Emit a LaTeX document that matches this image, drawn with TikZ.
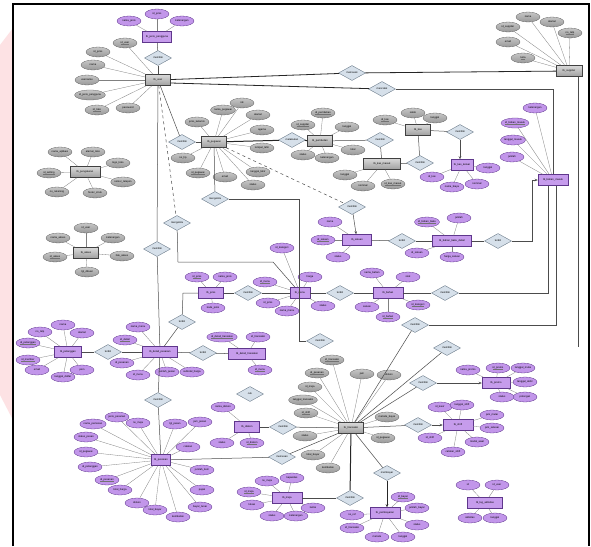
\documentclass[tikz,border=0pt]{standalone}
\usepackage{fontspec}
\setmainfont{Liberation Sans}
\usetikzlibrary{shapes.geometric,arrows.meta,calc}
\definecolor{purp}{RGB}{198,156,236}
\definecolor{purpd}{RGB}{95,55,140}
\definecolor{purpe}{RGB}{194,150,234}
\definecolor{relf}{RGB}{214,224,234}
\definecolor{reld}{RGB}{110,125,140}
\definecolor{pinkbg}{RGB}{253,226,228}
\newcommand\ulx[1]{\setbox0\hbox{#1}\leavevmode\rlap{\color{black!55}\rule[-0.35pt]{\wd0}{0.12pt}}\box0}
\newcommand\attset[3]{\foreach \ax/\ay/\at [count=\ai] in {#3} {\node[#1] (#2a\ai) at (\ax,\ay) {\at}; \draw[aline] (#2) -- (#2a\ai);}}
\begin{document}
\begin{tikzpicture}[x=1pt,y=-1pt, font=\fontsize{2.6}{3}\selectfont,
 gent/.style={rectangle, draw=black!75, line width=0.5pt, top color=gray!30, bottom color=gray!75, minimum width=25pt, minimum height=11pt, inner sep=0.5pt},
 pent/.style={rectangle, draw=purpd, line width=0.5pt, fill=purp, minimum width=25pt, minimum height=11pt, inner sep=0.5pt},
 gatt/.style={ellipse, draw=black!60, line width=0.3pt, top color=gray!45, bottom color=gray!80, minimum width=24pt, minimum height=10pt, inner sep=0pt},
 patt/.style={ellipse, draw=purpd, line width=0.3pt, fill=purpe, minimum width=24pt, minimum height=10pt, inner sep=0pt},
 rel/.style={diamond, draw=reld, line width=0.4pt, fill=relf, minimum width=27pt, minimum height=15pt, inner sep=0pt},
 aline/.style={draw=black!50, line width=0.3pt},
 cline/.style={draw=black!70, line width=0.5pt},
 tline/.style={draw=black!85, line width=1pt},
 arr/.style={-{Stealth[length=3pt,width=2.5pt]}}]
\useasboundingbox (0,0) rectangle (591,546);
\fill[white] (0,0) rectangle (591,546);
\fill[pinkbg] (0,45) -- (13,28) -- (13,420) -- (0,395) -- cycle;
\draw[line width=1.5pt] (13,546) -- (13,4) -- (589,4) -- (589,546);

% entities
\node[gent] (gU) at (158,80) {tb\_user};
\node[pent, minimum width=29pt] (pJP) at (157,37) {tb\_jenis\_pengguna};
\node[gent, minimum width=26pt] (gTR) at (569,71) {tb\_supplier};
\node[gent] (gP) at (214,142) {tb\_pegawai};
\node[gent] (gM) at (320,141) {tb\_pembelian};
\node[gent] (gK) at (418,130) {tb\_kas};
\node[gent, minimum width=37pt] (gKM) at (382,164) {tb\_kas\_masuk};
\node[pent, minimum width=22pt] (pK2) at (462,165) {tb\_kas\_keluar};
\node[pent, minimum width=30pt] (pTL) at (553,180) {tb\_bahan\_masuk};
\node[gent, minimum width=30pt] (gL1) at (85,172) {tb\_pengaturan};
\node[gent] (gL2) at (86,253) {tb\_akses};
\node[pent, minimum width=29pt] (pSN) at (357,240) {tb\_satuan};
\node[pent, minimum width=39pt] (pBB) at (452,241) {tb\_bahan\_baku\_detail};
\node[pent, minimum width=20pt] (pMenu) at (300,293) {tb\_menu};
\node[pent] (pJ) at (211,293) {tb\_jenis};
\node[pent, minimum width=30pt] (pSD) at (388,293) {tb\_bahan};
\node[pent, minimum width=35pt] (pDP) at (160,352) {tb\_detail\_pesanan};
\node[pent, minimum width=37pt] (pDF) at (247,354) {tb\_detail\_transaksi};
\node[pent, minimum width=27pt] (pPel) at (68,352) {tb\_pelanggan};
\node[pent, minimum width=19pt] (pBig) at (161,460) {tb\_pesanan};
\node[pent] (pTK) at (247,427) {tb\_diskon};
\node[gent] (gT) at (351,428) {tb\_transaksi};
\node[pent, minimum width=30pt] (pPD) at (287,498) {tb\_meja};
\node[pent, minimum width=30pt] (pPay) at (385,513) {tb\_pembayaran};
\node[pent, minimum width=30pt] (pR1) at (458,425) {tb\_shift};
\node[pent, minimum width=28pt] (pR2) at (496,383) {tb\_promo};
\node[pent, minimum width=35pt] (pLone) at (485,503) {tb\_log\_aktivitas};

% attributes
\attset{gatt}{gU}{125/43/{\ulx{id\_user}}, 98/52/id\_jenis, 93/65/nama, 87/80/username, 90/95/id\_jenis\_pengguna, 97/110/{\ulx{id\_toko}}, 128/108/password}
\attset{patt}{pJP}{129/21/nama\_jenis, 157/14/id\_jenis, 182/21/keterangan}
\attset{gatt}{gTR}{528/17/nama, 508/27/id\_supplier, 552/22/alamat, 570/33/{\ulx{no\_telp}}, 508/42/email, 523/58/{\ulx{kota}}}
\attset{gatt}{gP}{242/103/nik, 223/110/nama\_pegawai, 258/115/alamat, 197/122/jenis\_kelamin, 262/130/agama, 262/148/tempat\_lahir, 183/158/no\_hp, 198/173/{\ulx{id\_pegawai}}, 225/177/email, 258/172/tanggal\_lahir, 253/185/status}
\attset{gatt}{gM}{323/113/{\ulx{id\_pembelian}}, 303/125/{\ulx{id\_supplier}}, 347/127/tanggal, 353/150/total, 303/155/status, 327/158/keterangan}
\attset{gatt}{gK}{385/120/{\ulx{id\_kas}}, 413/113/saldo, 435/118/tanggal}
\attset{gatt}{gKM}{345/175/tanggal, 363/186/nominal, 393/184/{\ulx{id\_kas\_masuk}}}
\attset{patt}{pK2}{432/177/id\_kas, 452/187/nama\_biaya, 477/184/nominal, 488/168/tanggal}
\attset{patt}{pTL}{535/108/keterangan, 515/123/{\ulx{id\_bahan\_masuk}}, 513/140/tanggal\_masuk, 512/157/jumlah}
\attset{gatt}{gL1}{60/152/nama\_aplikasi, 93/152/alamat\_toko, 118/163/logo\_toko, 49/173/{\ulx{id\_setting}}, 123/182/nomor\_telepon, 57/192/no\_rekening, 95/193/footer\_struk}
\attset{gatt}{gL2}{86/228/id\_user, 58/238/nama\_akses, 113/238/keterangan, 55/257/{\ulx{id\_akses}}, 122/256/hak\_akses, 87/272/tgl\_dibuat}
\attset{patt}{pSN}{330/222/nama, 323/240/{\ulx{id\_satuan}}, 338/257/status}
\attset{patt}{pBB}{427/222/{\ulx{id\_bahan\_baku}}, 459/218/jumlah, 417/253/id\_satuan, 452/257/harga\_satuan}
\attset{patt}{pMenu}{282/248/id\_kategori, 265/282/{\ulx{id\_menu}}, 310/277/harga, 323/306/status, 268/303/id\_jenis, 287/311/nama\_menu}
\attset{patt}{pJ}{197/277/{\ulx{id\_jenis}}, 225/277/nama\_jenis, 213/308/kode\_jenis}
\attset{patt}{pSD}{372/273/nama\_bahan, 408/277/stok, 367/307/satuan, 418/305/{\ulx{id\_kategori}}, 388/317/{\ulx{id\_bahan}}}
\attset{patt}{pDP}{138/327/nama\_menu, 125/340/{\ulx{id\_detail}}, 122/363/id\_pesanan, 138/375/id\_menu, 167/372/jumlah\_pesan, 192/372/subtotal\_harga}
\attset{patt}{pDF}{222/337/{\ulx{id\_detail\_transaksi}}, 258/337/id\_transaksi, 260/370/{\ulx{id\_menu}}}
\attset{patt}{pPel}{63/325/nama, 40/332/no\_telp, 82/333/alamat, 28/343/{\ulx{id\_pelanggan}}, 28/360/{\ulx{id\_member}}, 37/370/email, 63/377/tanggal\_daftar, 82/370/poin}
\attset{patt}{pBig}{93/424/nama\_pemesan, 117/417/jenis\_pesanan, 138/423/no\_meja, 175/424/tgl\_pesan, 200/422/jam\_pesan, 86/437/status\_pesan, 86/452/id\_pegawai, 90/467/id\_pelanggan, 107/480/{\ulx{id\_pesanan}}, 120/490/total\_harga, 137/503/diskon, 155/510/total\_bayar, 178/517/kembalian, 188/447/catatan, 202/470/jumlah\_item, 202/490/pajak, 200/507/bayar\_tunai}
\attset{patt}{pTK}{223/407/nama\_diskon, 222/443/status, 252/443/{\ulx{id\_diskon}}}
\attset{gatt}{gT}{332/360/{\ulx{id\_transaksi}}, 317/373/{\ulx{id\_pesanan}}, 310/387/id\_meja, 303/400/tanggal\_transaksi, 306/413/{\ulx{id\_shift}}, 305/436/status, 313/455/total\_bayar, 328/468/kembalian, 362/374/jam, 389/375/diskon, 387/417/metode\_bayar, 383/438/id\_pegawai}
\attset{patt}{pPD}{267/481/no\_meja, 292/478/kapasitas, 249/492/{\ulx{id\_meja}}, 252/505/lokasi, 272/516/status, 296/516/keterangan, 313/508/lantai}
\attset{patt}{pPay}{403/497/{\ulx{id\_bayar}}, 417/508/jumlah\_bayar, 417/525/status, 403/537/tanggal, 377/537/metode, 352/528/id\_transaksi, 352/515/no\_ref}
\attset{patt}{pR1}{440/407/id\_kasir, 462/405/tanggal\_shift, 492/415/jam\_mulai, 492/428/jam\_selesai, 477/442/modal\_awal, 453/452/catatan\_shift, 430/438/id\_shift}
\attset{patt}{pR2}{468/370/nama\_promo, 498/368/{\ulx{id\_promo}}, 523/368/tanggal\_mulai, 525/382/tanggal\_akhir, 525/397/potongan, 502/397/status}
\attset{patt}{pLone}{468/485/id, 497/485/id\_user, 470/518/aktivitas, 495/518/tanggal}

% relationships
\node[rel] (d1) at (158,58) {memiliki};
\node[rel] (d2) at (352,73) {memasok};
\node[rel] (d3) at (382,89) {mencatat};
\node[rel] (d4) at (182,142) {memiliki};
\node[rel] (d5) at (292,140) {melakukan};
\node[rel] (d6) at (380,140) {memiliki};
\node[rel] (d7) at (460,132) {memiliki};
\node[rel] (d8) at (420,163) {memiliki};
\node[rel] (d9) at (215,199) {mengelola};
\node[rel] (d10) at (177,223) {mengelola};
\node[rel] (d11) at (157,249) {memiliki};
\node[rel] (d12) at (352,207) {memiliki};
\node[rel] (d13) at (402,241) {terdiri};
\node[rel] (d14) at (498,241) {terdiri};
\node[rel] (d15) at (248,293) {memiliki};
\node[rel] (d16) at (340,293) {terdiri};
\node[rel] (d17) at (445,293) {memiliki};
\node[rel] (d18) at (182,322) {terdiri};
\node[rel] (d19) at (108,352) {terdiri};
\node[rel] (d20) at (203,353) {terdiri};
\node[rel] (d21) at (158,400) {memiliki};
\node[rel] (d22) at (320,341) {memiliki};
\node[rel] (d23) at (415,325) {memiliki};
\node[rel] (d24) at (447,348) {memiliki};
\node[rel] (d25) at (423,383) {memiliki};
\node[rel] (d26) at (418,425) {memiliki};
\node[rel] (d27) at (283,427) {memiliki};
\node[rel] (d28) at (282,457) {memesan};
\node[rel] (d29) at (250,394) {cek};
\node[rel] (d30) at (350,498) {memiliki};
\node[rel] (d31) at (387,473) {membayar};

\coordinate (c9) at (299,199);
\coordinate (c10a) at (178,262);
\coordinate (c10b) at (273,262);
\coordinate (c14) at (532,241);
\coordinate (c17) at (548,293);
\coordinate (c18) at (183,293);
\coordinate (c23) at (556,325);
\coordinate (cTR) at (578,347);

% connectors
\draw[cline] (pJP) -- (d1);
\draw[cline] (d1) -- (gU);
\draw[tline, line width=0.8pt] (gU) -- (d2);
\draw[tline, line width=0.8pt] (d2) -- (gTR);
\draw[tline, line width=0.8pt] ($(gU.east)+(0,3)$) -- (d3);
\draw[cline] (d3) -- (d3 -| pTL) -- (pTL);
\draw[cline] (gU) -- (d4);
\draw[cline] (d4) -- (gP);
\draw[tline] (gP) -- (d5);
\draw[tline] (d5) -- (gM);
\draw[cline] (gM) -- (d6);
\draw[cline] (d6) -- (gKM);
\draw[cline] (gK) -- (d7);
\draw[cline, arr] (d7) -- (d7 |- pK2.north);
\draw[cline] (gKM) -- (d8);
\draw[cline] (d8) -- (gK);
\draw[cline] (gP) -- (d9);
\draw[cline] (d9) -- (c9) -- (c9 |- d22) -- (d22);
\draw[cline, dashed] (gU) -- (d10);
\draw[cline] (d10) -- (c10a) -- (c10b) -- (pMenu);
\draw[cline] (gU) -- (d11);
\draw[cline] (d11) -- (pDP);
\draw[cline, dashed] (gP) -- (d12);
\draw[cline, arr] (d12) -- (pSN);
\draw[cline] (pSN) -- (d13);
\draw[cline] (d13) -- (pBB);
\draw[cline] (pBB) -- (d14);
\draw[cline, arr] (d14) -- (c14) |- (pTL);
\draw[cline] (pJ) -- (d15);
\draw[cline] (d15) -- (pMenu);
\draw[cline] (pMenu) -- (d16);
\draw[cline] (d16) -- (pSD);
\draw[cline] (pSD) -- (d17);
\draw[cline] (d17) -- (c17) -- (c17 |- pTL.south);
\draw[cline] (pJ) -- (c18) -- (d18);
\draw[cline] (d18) -- (pDP);
\draw[cline] (pPel) -- (d19);
\draw[cline] (d19) -- (pDP);
\draw[cline] (pDP) -- (d20);
\draw[cline] (d20) -- (pDF);
\draw[cline] (pDP) -- (d21);
\draw[cline] (d21) -- (pBig);
\draw[cline] (gT) -- (d23);
\draw[cline] (d23) -- (c23) -- (c23 |- pTL.south);
\draw[cline] (gT) -- (d24);
\draw[cline] (gT) -- (d25);
\draw[cline, arr] (d25) -- (pR2);
\draw[cline] (gT) -- (d26);
\draw[cline, arr] (d26) -- (pR1);
\draw[cline] (pTK) -- (d27);
\draw[cline] (d27) -- (gT);
\draw[cline] (pBig) -- (d28);
\draw[cline] (d28) -- (gT);
\draw[cline] (pPD) -- (d30);
\draw[tline] (d30) -- (gT);
\draw[cline] (gT) -- (d31);
\draw[tline, arr] (d31) -- (d31 |- pPay.north);
\draw[cline] (gTR.south -| cTR) -- (cTR);
\end{tikzpicture}
\end{document}
